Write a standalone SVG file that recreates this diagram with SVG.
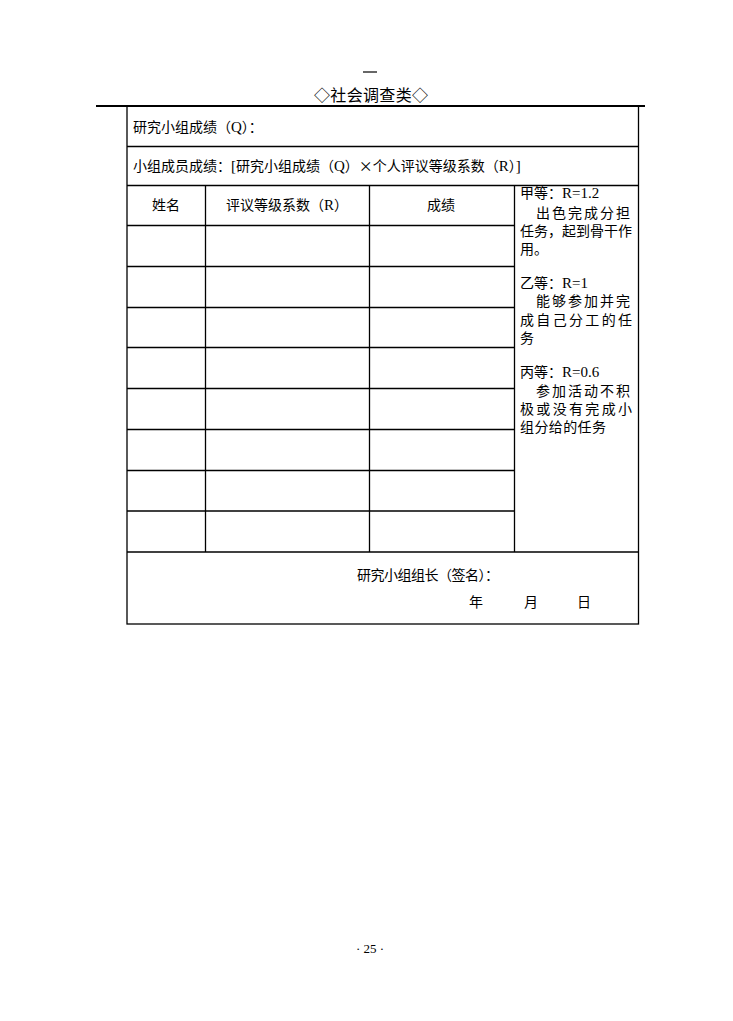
<svg xmlns="http://www.w3.org/2000/svg" width="733" height="1021" viewBox="0 0 733 1021">
<style>
.t{font-family:"Noto Sans CJK SC","Liberation Sans",sans-serif;font-size:14px;fill:#000}
.s{font-family:"Liberation Serif",serif}
.ln{stroke:#000;stroke-width:1.3;fill:none}
</style>
<rect width="733" height="1021" fill="#fff"/>
<g id="page-header">
<line x1="363" y1="72" x2="377" y2="72" stroke="#000" stroke-width="1.2"/>
<text x="314" y="101" class="t" style="font-size:16px" textLength="114">◇社会调查类◇</text>
<line x1="96" y1="106" x2="645" y2="106" stroke="#000" stroke-width="2.2"/>
</g>
<g id="connectors">
<rect class="ln" x="127" y="106" width="511.5" height="518"/>
<line class="ln" x1="127" y1="146.5" x2="638.5" y2="146.5"/>
<line class="ln" x1="127" y1="185.5" x2="638.5" y2="185.5"/>
<line class="ln" x1="127" y1="225.5" x2="514" y2="225.5"/>
<line class="ln" x1="127" y1="266.5" x2="514" y2="266.5"/>
<line class="ln" x1="127" y1="307.5" x2="514" y2="307.5"/>
<line class="ln" x1="127" y1="347.5" x2="514" y2="347.5"/>
<line class="ln" x1="127" y1="388.5" x2="514" y2="388.5"/>
<line class="ln" x1="127" y1="429.5" x2="514" y2="429.5"/>
<line class="ln" x1="127" y1="470.5" x2="514" y2="470.5"/>
<line class="ln" x1="127" y1="511" x2="514" y2="511"/>
<line class="ln" x1="127" y1="552" x2="638.5" y2="552"/>
<line class="ln" x1="205.5" y1="185.5" x2="205.5" y2="552"/>
<line class="ln" x1="369.5" y1="185.5" x2="369.5" y2="552"/>
<line class="ln" x1="514.5" y1="185.5" x2="514.5" y2="552"/>
</g>
<g id="row-group-score">
<text x="133" y="132" class="t">研究小组成绩（<tspan class="s" font-size="15">Q</tspan>）：</text>
</g>
<g id="row-member-score">
<text x="133" y="171" class="t">小组成员成绩：<tspan class="s" font-size="15">[</tspan>研究小组成绩（<tspan class="s" font-size="15">Q</tspan>）×个人评议等级系数（<tspan class="s" font-size="15">R</tspan>）<tspan class="s" font-size="15">]</tspan></text>
</g>
<g id="col-headers">
<text x="166" y="210" text-anchor="middle" class="t">姓名</text>
<text x="287" y="210" text-anchor="middle" class="t">评议等级系数（<tspan class="s" font-size="15">R</tspan>）</text>
<text x="441" y="210" text-anchor="middle" class="t">成绩</text>
</g>
<g id="grade-legend">
<text x="520" y="198" class="t">甲等：<tspan class="s" font-size="15">R=1.2</tspan></text>
<text x="536" y="218" class="t" textLength="94">出色完成分担</text>
<text x="520" y="236" class="t" textLength="112">任务，起到骨干作</text>
<text x="520" y="254" class="t">用。</text>
<text x="520" y="288" class="t">乙等：<tspan class="s" font-size="15">R=1</tspan></text>
<text x="536" y="306" class="t" textLength="94">能够参加并完</text>
<text x="520" y="325" class="t" textLength="112">成自己分工的任</text>
<text x="520" y="343" class="t">务</text>
<text x="520" y="377" class="t">丙等：<tspan class="s" font-size="15">R=0.6</tspan></text>
<text x="536" y="396" class="t" textLength="94">参加活动不积</text>
<text x="520" y="414" class="t" textLength="112">极或没有完成小</text>
<text x="520" y="432" class="t" textLength="86">组分给的任务</text>
</g>
<g id="signature">
<text x="357" y="580" class="t" textLength="142">研究小组组长（签名）：</text>
<text x="469" y="607" class="t">年</text>
<text x="524" y="607" class="t">月</text>
<text x="577" y="607" class="t">日</text>
</g>
<g id="page-number">
<text x="370" y="953" text-anchor="middle" style="font-family:'Liberation Serif',serif;font-size:13px">· 25 ·</text>
</g>
</svg>
